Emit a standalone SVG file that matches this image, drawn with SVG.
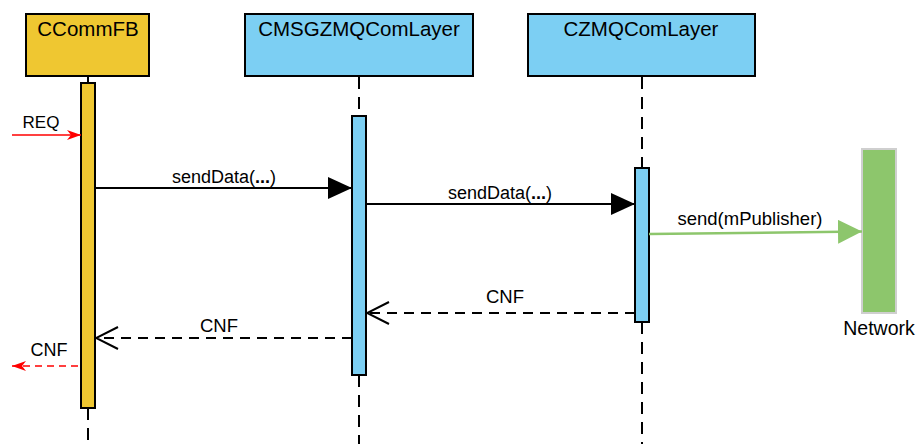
<svg xmlns="http://www.w3.org/2000/svg" width="920" height="444" viewBox="0 0 920 444">
  <style>
    .t { font-family: "Liberation Sans", Arial, sans-serif; fill: #000; }
    .box { stroke: #000; stroke-width: 2; }
    .yel { fill: #efc731; }
    .blu { fill: #7ccff3; }
    .life { stroke: #000; stroke-width: 2; stroke-dasharray: 12 8; fill: none; }
    .msg { stroke: #000; stroke-width: 2; fill: none; }
    .ret { stroke: #000; stroke-width: 2; stroke-dasharray: 10 7; fill: none; }
  </style>
  <defs>
    <marker id="solidHead" markerWidth="24" markerHeight="22" refX="24" refY="11" orient="auto" markerUnits="userSpaceOnUse">
      <path d="M0,0 L24,11 L0,22 Z" fill="#000"/>
    </marker>
    <marker id="greenHead" markerWidth="24" markerHeight="24" refX="24" refY="12" orient="auto" markerUnits="userSpaceOnUse">
      <path d="M0,0 L24,12 L0,24 Z" fill="#8dc66c"/>
    </marker>
    <marker id="openHead" markerWidth="24" markerHeight="24" refX="23" refY="12" orient="auto" markerUnits="userSpaceOnUse">
      <path d="M1,1 L23,12 L1,23" fill="none" stroke="#000" stroke-width="2"/>
    </marker>
    <marker id="redHead" markerWidth="14" markerHeight="12" refX="14" refY="6" orient="auto" markerUnits="userSpaceOnUse">
      <path d="M0,1 L14,6 L0,11 L4,6 Z" fill="#ff0000"/>
    </marker>
  </defs>

  <!-- lifelines -->
  <g id="lifelines">
    <line class="msg" x1="88" y1="76" x2="88" y2="83"/>
    <line class="life" x1="88" y1="408" x2="88" y2="444"/>
    <line class="life" x1="359" y1="77" x2="359" y2="116"/>
    <line class="life" x1="359" y1="375" x2="359" y2="444"/>
    <line class="life" x1="642" y1="77" x2="642" y2="168"/>
    <line class="life" x1="642" y1="322" x2="642" y2="444"/>
  </g>

  <g id="ccommfb">
    <rect class="box yel" x="26" y="14" width="123" height="62"/>
    <text class="t" x="88" y="36" font-size="20.5" text-anchor="middle">CCommFB</text>
    <rect class="box yel" x="81" y="83" width="14" height="325"/>
  </g>

  <g id="cmsgzmqcomlayer">
    <rect class="box blu" x="245" y="14" width="228" height="62"/>
    <text class="t" x="359" y="36" font-size="20.5" text-anchor="middle">CMSGZMQComLayer</text>
    <rect class="box blu" x="352" y="116" width="14" height="259"/>
  </g>

  <g id="czmqcomlayer">
    <rect class="box blu" x="528" y="14" width="227" height="62"/>
    <text class="t" x="641" y="36" font-size="20.5" text-anchor="middle">CZMQComLayer</text>
    <rect class="box blu" x="635" y="168" width="14" height="154"/>
  </g>

  <g id="network">
    <rect x="862" y="149" width="34" height="164" fill="#8dc66c" stroke="#cfcfcf" stroke-width="2"/>
    <text class="t" x="879" y="335" font-size="19.5" text-anchor="middle">Network</text>
  </g>

  <!-- messages -->
  <g id="connectors">
    <line x1="12" y1="135" x2="81" y2="135" stroke="#ff0000" stroke-width="1.5" marker-end="url(#redHead)"/>
    <text class="t" x="41" y="128" font-size="17" text-anchor="middle">REQ</text>

    <line class="msg" x1="95" y1="188" x2="352" y2="188" marker-end="url(#solidHead)"/>
    <text class="t" x="224" y="183" font-size="18" text-anchor="middle">sendData(<tspan font-weight="bold">...</tspan>)</text>

    <line class="msg" x1="366" y1="204" x2="635" y2="204" marker-end="url(#solidHead)"/>
    <text class="t" x="500" y="199" font-size="18" text-anchor="middle">sendData(<tspan font-weight="bold">...</tspan>)</text>

    <line x1="649" y1="234" x2="862" y2="231.5" stroke="#8dc66c" stroke-width="2.5" marker-end="url(#greenHead)"/>
    <text class="t" x="750" y="225" font-size="18.5" text-anchor="middle">send(mPublisher)</text>

    <line class="ret" x1="635" y1="313" x2="367" y2="313" marker-end="url(#openHead)"/>
    <text class="t" x="505" y="303" font-size="18.5" text-anchor="middle">CNF</text>

    <line class="ret" x1="352" y1="338" x2="96" y2="338" marker-end="url(#openHead)"/>
    <text class="t" x="219" y="332" font-size="18.5" text-anchor="middle">CNF</text>

    <line x1="78" y1="366" x2="12" y2="366" stroke="#ff0000" stroke-width="1.5" stroke-dasharray="7 5" marker-end="url(#redHead)"/>
    <text class="t" x="49" y="356" font-size="18" text-anchor="middle">CNF</text>
  </g>
</svg>
